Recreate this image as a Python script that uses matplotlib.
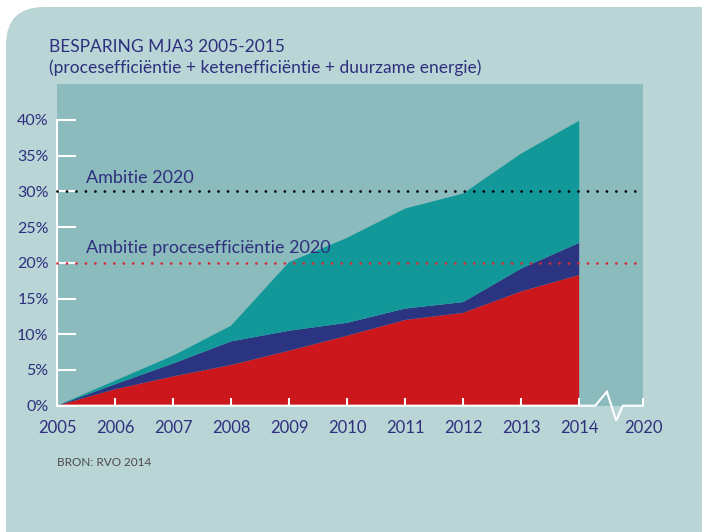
import matplotlib
matplotlib.use('Agg')
import matplotlib.pyplot as plt
from matplotlib.patches import FancyBboxPatch
import numpy as np

# ---------------- data ----------------
years = ['2005', '2006', '2007', '2008', '2009', '2010', '2011', '2012', '2013', '2014']
target_year = '2020'
# savings per component (percentage points, stacked)
procesefficientie = [0.0, 2.3, 4.1, 5.7, 7.7, 9.8, 12.0, 13.0, 16.0, 18.3]
ketenefficientie = [0.0, 0.7, 1.8, 3.3, 2.8, 1.8, 1.6, 1.5, 3.2, 4.5]
duurzame_energie = [0.0, 0.5, 1.1, 2.2, 9.6, 11.9, 14.0, 15.2, 16.1, 17.1]
ambitie_2020 = 30
ambitie_proces_2020 = 20
y_ticks = [0, 5, 10, 15, 20, 25, 30, 35, 40]
y_tick_labels = ['0%', '5%', '10%', '15%', '20%', '25%', '30%', '35%', '40%']
title_lines = ['BESPARING MJA3 2005-2015',
               '(procesefficiëntie + ketenefficiëntie + duurzame energie)']
source = 'BRON: RVO 2014'

plt.rcParams['font.family'] = ['Lato', 'DejaVu Sans']

# ---------------- colours ----------------
panel_c = '#bad5d6'
plot_bg = '#8bbbbd'
red_c = '#cc171d'
navy_c = '#2a3480'
teal_c = '#129898'
text_c = '#2e2f7d'

W, H = 702, 532
fig = plt.figure(figsize=(W / 100, H / 100), dpi=100)
fig.patch.set_facecolor('white')

# background panel in pixel space
bg = fig.add_axes([0, 0, 1, 1])
bg.set_xlim(0, W)
bg.set_ylim(H, 0)
bg.axis('off')
bg.add_patch(FancyBboxPatch((6, 7), 740, 600, boxstyle='round,pad=0,rounding_size=38',
                            fc=panel_c, ec='none'))

# ---------------- main axes ----------------
left, right, top, bottom = 57, 643, 84, 405.7
ax = fig.add_axes([left / W, (H - bottom) / H, (right - left) / W, (bottom - top) / H])
ax.set_facecolor(plot_bg)

x = np.arange(len(years))
x_target = len(years) - 1 + 1.1
ax.set_xlim(0, x_target)
ax.set_ylim(0, 45.04)

ax.stackplot(x, procesefficientie, ketenefficientie, duurzame_energie,
             colors=[red_c, navy_c, teal_c], linewidth=0)

# ambition lines
ax.plot([0, x_target], [ambitie_2020] * 2, color='black', lw=2.0,
        linestyle=(0, (0.01, 3.4)), dash_capstyle='round', zorder=5, clip_on=False)
ax.plot([0, x_target], [ambitie_proces_2020] * 2, color='#d62a33', lw=2.0,
        linestyle=(0, (0.01, 3.4)), dash_capstyle='round', zorder=5, clip_on=False)
ax.text(0.5, ambitie_2020 + 1.9, 'Ambitie 2020', color=text_c, fontsize=13,
        va='center', ha='left')
ax.text(0.5, ambitie_proces_2020 + 2.1, 'Ambitie procesefficiëntie 2020', color=text_c,
        fontsize=13, va='center', ha='left')

# ticks
ax.set_xticks(list(x) + [x_target])
ax.set_xticklabels(years + [target_year])
ax.set_yticks(y_ticks)
ax.set_yticklabels(y_tick_labels)
ax.tick_params(axis='x', direction='in', length=6, width=1.5, color='white',
               labelcolor=text_c, labelsize=12, pad=10)
ax.tick_params(axis='y', direction='in', length=14, width=1.5, color='white',
               labelcolor=text_c, labelsize=11.5, pad=6)
for s in ['top', 'right', 'bottom']:
    ax.spines[s].set_visible(False)
ax.spines['left'].set_color('white')
ax.spines['left'].set_linewidth(1.5)
ax.spines['left'].set_bounds(0, 40)

# x axis line with break
brk_x = [0, len(years) - 1, 9.276, 9.477, 9.638, 9.753, x_target]
brk_y = [0, 0, 0, 1.96, -2.1, 0, 0]
ax.plot(brk_x, brk_y, color='white', lw=1.5, clip_on=False, zorder=6,
        solid_joinstyle='miter')
ax.fill_between([9.276, 9.753], -2.4, 0, color=panel_c, clip_on=False, zorder=5.5, lw=0)

# titles
fig.text(49 / W, 1 - 47 / H, title_lines[0], color=text_c, fontsize=12.5, va='center')
fig.text(49 / W, 1 - 68 / H, title_lines[1], color=text_c, fontsize=12.5, va='center')
fig.text(57 / W, 1 - 462 / H, source, color='#4a4a4a', fontsize=8.5, va='center')

fig.savefig('out.png', dpi=100, facecolor='white')
